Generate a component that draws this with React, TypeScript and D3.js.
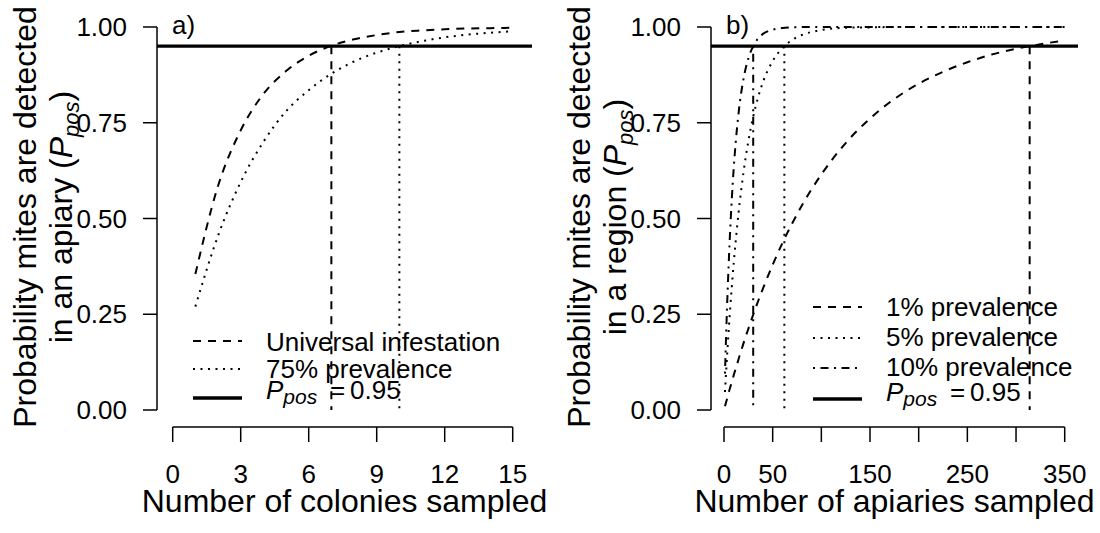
import React from 'react';
import * as d3 from 'd3';

// panel a) colonies sampled
const colonies = [1, 2, 3, 4, 5, 6, 7, 8, 9, 10, 11, 12, 13, 14, 15];
const pUniversal = [0.355, 0.585, 0.73, 0.825, 0.885, 0.925, 0.951, 0.968, 0.979, 0.987, 0.991, 0.994, 0.996, 0.997, 0.998];
const p75 = [0.27, 0.455, 0.595, 0.7, 0.78, 0.835, 0.878, 0.91, 0.933, 0.95, 0.963, 0.973, 0.98, 0.985, 0.989];
const crossA = [7, 10];

// panel b) apiaries sampled
const apiaries = [1, 2, 3, 4, 5, 6, 8, 10, 12, 15, 20, 25, 30, 35, 40, 50, 60, 70, 80, 100, 125, 150, 175, 200, 225, 250, 275, 300, 325, 350];
const p1 = [0.0095, 0.019, 0.028, 0.037, 0.047, 0.056, 0.073, 0.091, 0.108, 0.133, 0.174, 0.212, 0.249, 0.284, 0.317, 0.379, 0.436, 0.487, 0.534, 0.615, 0.697, 0.761, 0.812, 0.852, 0.883, 0.908, 0.928, 0.943, 0.955, 0.965];
const p5 = [0.047, 0.092, 0.135, 0.176, 0.215, 0.252, 0.321, 0.384, 0.44, 0.516, 0.62, 0.702, 0.766, 0.816, 0.856, 0.911, 0.945, 0.966, 0.979, 0.992, 0.998, 0.999, 1, 1, 1, 1, 1, 1, 1, 1];
const p10 = [0.095, 0.181, 0.259, 0.329, 0.393, 0.451, 0.55, 0.632, 0.698, 0.776, 0.864, 0.918, 0.95, 0.97, 0.982, 0.993, 0.9975, 0.999, 1, 1, 1, 1, 1, 1, 1, 1, 1, 1, 1, 1];
const crossB = [314, 62, 30];

const yTicks = [0, 0.25, 0.5, 0.75, 1];
const xTicksA = [0, 3, 6, 9, 12, 15];
const xTicksB = [0, 50, 100, 150, 200, 250, 300, 350];
const xLabelsB = [0, 50, 150, 250, 350];
const threshold = 0.95;

const font = "'Liberation Sans', Arial, Helvetica, sans-serif";
const DASH = '8 7';
const DOT = '2 5.5';
const DASHDOT = '2 5.5 8 5.5';

const y = d3.scaleLinear().domain([0, 1]).range([410, 27]);

type Series = { xs: number[]; ys: number[]; dash: string };

function Panel(props: {
  x: d3.ScaleLinear<number, number>;
  left: number;
  right: number;
  series: Series[];
  cross: number[];
  xTicks: number[];
  xLabels: number[];
  tag: string;
  ylab2: string;
  xlab: string;
  legend: { label: string; dash: string; base: number; line: number }[];
  pos: { line: number; base: number };
  legX: number;
}) {
  const { x, left, right, series, cross, xTicks, xLabels, tag, ylab2, xlab, legend, pos, legX } = props;
  const axisX = left;
  const axisY = 427;
  const mid = (left + right) / 2;
  return (
    <g>
      {/* y axis */}
      <line x1={axisX} x2={axisX} y1={y(0)} y2={y(1)} stroke="#000" strokeWidth={1.5} />
      {yTicks.map(t => (
        <g key={t}>
          <line x1={axisX - 14} x2={axisX} y1={y(t)} y2={y(t)} stroke="#000" strokeWidth={1.5} />
          <text x={axisX - 30} y={y(t) + 9} textAnchor="end" fontSize={26}>{t.toFixed(2)}</text>
        </g>
      ))}
      {/* x axis */}
      <line x1={x(xTicks[0])} x2={x(xTicks[xTicks.length - 1])} y1={axisY} y2={axisY} stroke="#000" strokeWidth={1.5} />
      {xTicks.map(t => (
        <line key={t} x1={x(t)} x2={x(t)} y1={axisY} y2={axisY + 15} stroke="#000" strokeWidth={1.5} />
      ))}
      {xLabels.map(t => (
        <text key={t} x={x(t)} y={483} textAnchor="middle" fontSize={26}>{t}</text>
      ))}
      <text x={mid} y={512} textAnchor="middle" fontSize={32}>{xlab}</text>
      {/* y title */}
      <text transform={`translate(${axisX - 121},217) rotate(-90)`} textAnchor="middle" fontSize={32}>
        Probability mites are detected
      </text>
      <text transform={`translate(${axisX - 85},217) rotate(-90)`} textAnchor="middle" fontSize={32}>
        {ylab2}(<tspan fontStyle="italic">P</tspan>
        <tspan fontStyle="italic" fontSize={22} dy={7}>pos</tspan>
        <tspan dy={-7}>)</tspan>
      </text>
      <text x={left + 15} y={34} fontSize={26}>{tag}</text>
      {/* threshold */}
      <line x1={left} x2={right} y1={y(threshold)} y2={y(threshold)} stroke="#000" strokeWidth={3.4} />
      {/* curves */}
      {series.map((s, i) => {
        const path = d3.line<number>()
          .x((_, j) => x(s.xs[j]))
          .y(d => y(d))
          .curve(d3.curveMonotoneX)(s.ys);
        return <path key={i} d={path || ''} fill="none" stroke="#000" strokeWidth={2} strokeDasharray={s.dash} />;
      })}
      {cross.map((c, i) => (
        <line key={i} x1={x(c)} x2={x(c)} y1={y(threshold)} y2={y(0)} stroke="#000" strokeWidth={2} strokeDasharray={series[i].dash} />
      ))}
      {/* legend */}
      {legend.map((l, i) => (
        <g key={i}>
          <line x1={legX} x2={legX + 49} y1={l.line} y2={l.line} stroke="#000" strokeWidth={2} strokeDasharray={l.dash} />
          <text x={legX + 73} y={l.base} fontSize={26}>{l.label}</text>
        </g>
      ))}
      <line x1={legX} x2={legX + 49} y1={pos.line} y2={pos.line} stroke="#000" strokeWidth={3.4} />
      <text x={legX + 73} y={pos.base} fontSize={26}>
        <tspan fontStyle="italic">P</tspan>
        <tspan fontStyle="italic" fontSize={21} dy={5}>pos</tspan>
      </text>
      <text x={legX + 137} y={pos.base} fontSize={26}>=</text>
      <text x={legX + 157} y={pos.base} fontSize={26}>0.95</text>
    </g>
  );
}

export default function App() {
  const xA = d3.scaleLinear().domain([0, 15]).range([172.7, 512.7]);
  const xB = d3.scaleLinear().domain([0, 350]).range([724, 1064.7]);
  return (
    <div style={{ position: 'fixed', left: 0, top: 0 }}>
      <svg width={1100} height={533} fontFamily={font} style={{ display: 'block', background: '#fff' }}>
        <Panel
          x={xA}
          left={157}
          right={532}
          series={[
            { xs: colonies, ys: pUniversal, dash: DASH },
            { xs: colonies, ys: p75, dash: DOT },
          ]}
          cross={crossA}
          xTicks={xTicksA}
          xLabels={xTicksA}
          tag="a)"
          ylab2="in an apiary "
          xlab="Number of colonies sampled"
          legend={[
            { label: 'Universal infestation', dash: DASH, line: 341, base: 350.5 },
            { label: '75% prevalence', dash: DOT, line: 369, base: 377.5 },
          ]}
          pos={{ line: 398, base: 399 }}
          legX={193}
        />
        <Panel
          x={xB}
          left={711}
          right={1078}
          series={[
            { xs: apiaries, ys: p1, dash: DASH },
            { xs: apiaries, ys: p5, dash: DOT },
            { xs: apiaries, ys: p10, dash: DASHDOT },
          ]}
          cross={crossB}
          xTicks={xTicksB}
          xLabels={xLabelsB}
          tag="b)"
          ylab2="in a region "
          xlab="Number of apiaries sampled"
          legend={[
            { label: '1% prevalence', dash: DASH, line: 307, base: 316 },
            { label: '5% prevalence', dash: DOT, line: 338, base: 346 },
            { label: '10% prevalence', dash: DASHDOT, line: 368, base: 375.5 },
          ]}
          pos={{ line: 399, base: 401 }}
          legX={813}
        />
      </svg>
    </div>
  );
}
